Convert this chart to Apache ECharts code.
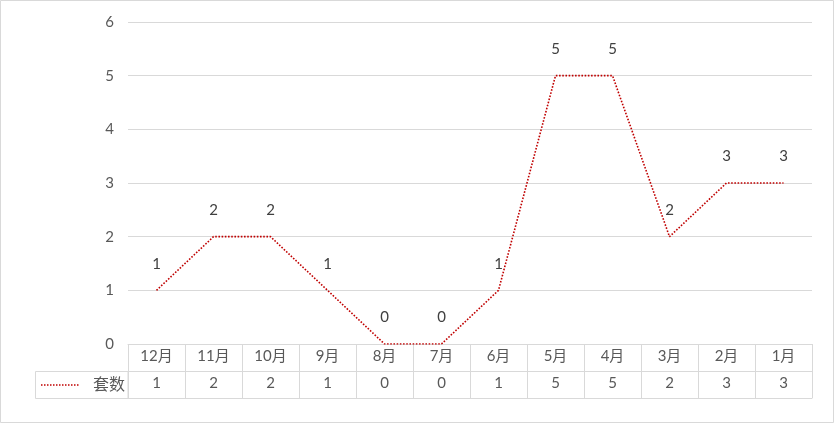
<!DOCTYPE html>
<html><head><meta charset="utf-8">
<script src="https://cdn.jsdelivr.net/npm/echarts@6/dist/echarts.min.js"></script>
<style>html,body{margin:0;padding:0;background:#fff}#c{width:835px;height:424px}</style>
</head><body><div id="c"></div>
<script>
var categories = ['12月','11月','10月','9月','8月','7月','6月','5月','4月','3月','2月','1月'];
var seriesName = '套数';
var values = [1,2,2,1,0,0,1,5,5,2,3,3];
var yTicks = [0,1,2,3,4,5,6];

var FONT = 'Lato, "Noto Sans CJK SC", sans-serif';
var GRID = '#d9d9d9';
var LINE = '#C00000';
var chart = echarts.init(document.getElementById('c'));
chart.setOption({
  animation: false,
  backgroundColor: '#fff',
  grid: {left: 128, right: 23, top: 22, bottom: 80},
  xAxis: [
    {type: 'category', data: categories, position: 'bottom', boundaryGap: true,
     axisLine: {show: true, lineStyle: {color: GRID, width: 1}},
     axisTick: {show: true, length: 54, lineStyle: {color: GRID, width: 1}},
     axisLabel: {color: '#595959', fontSize: 15, fontFamily: FONT, margin: 5, interval: 0}},
    {type: 'category', data: categories, position: 'bottom', offset: 27, boundaryGap: true,
     axisLine: {show: true, lineStyle: {color: GRID, width: 1}},
     axisTick: {show: false},
     axisLabel: {color: '#595959', fontSize: 15, fontFamily: FONT, margin: 5, interval: 0,
       formatter: function (v, i) { return String(values[i]); }}},
    {type: 'category', data: categories, position: 'bottom', offset: 54, boundaryGap: true,
     axisLine: {show: true, lineStyle: {color: GRID, width: 1}},
     axisTick: {show: false}, axisLabel: {show: false}}
  ],
  yAxis: {type: 'value', min: yTicks[0], max: yTicks[yTicks.length - 1], interval: 1,
    axisLine: {show: false}, axisTick: {show: false},
    axisLabel: {color: '#595959', fontSize: 15, fontFamily: FONT, margin: 14},
    splitLine: {lineStyle: {color: GRID, width: 1}}},
  series: [{
    name: seriesName, type: 'line', data: values,
    symbol: 'circle', symbolSize: 2, showSymbol: true,
    itemStyle: {color: 'transparent', borderColor: 'transparent', borderWidth: 0},
    lineStyle: {color: LINE, type: 'dotted', width: 1.6},
    label: {show: true, position: 'top', distance: 18, color: '#404040', fontSize: 15, fontFamily: FONT}
  }],
  graphic: [
    {type: 'rect', shape: {x: 0.5, y: 0.5, width: 833, height: 422}, style: {fill: 'none', stroke: GRID, lineWidth: 1}, silent: true},
    {type: 'rect', shape: {x: 35.5, y: 371.5, width: 92.5, height: 27}, style: {fill: 'none', stroke: GRID, lineWidth: 1}, silent: true},
    {type: 'line', shape: {x1: 41, y1: 385, x2: 79, y2: 385}, style: {stroke: LINE, lineWidth: 1.6, lineDash: [1.5, 1.5]}, silent: true},
    {type: 'text', x: 125, y: 385, style: {text: seriesName, fill: '#595959', font: '16px ' + FONT, textAlign: 'right', textVerticalAlign: 'middle'}, silent: true}
  ]
});
</script></body></html>
